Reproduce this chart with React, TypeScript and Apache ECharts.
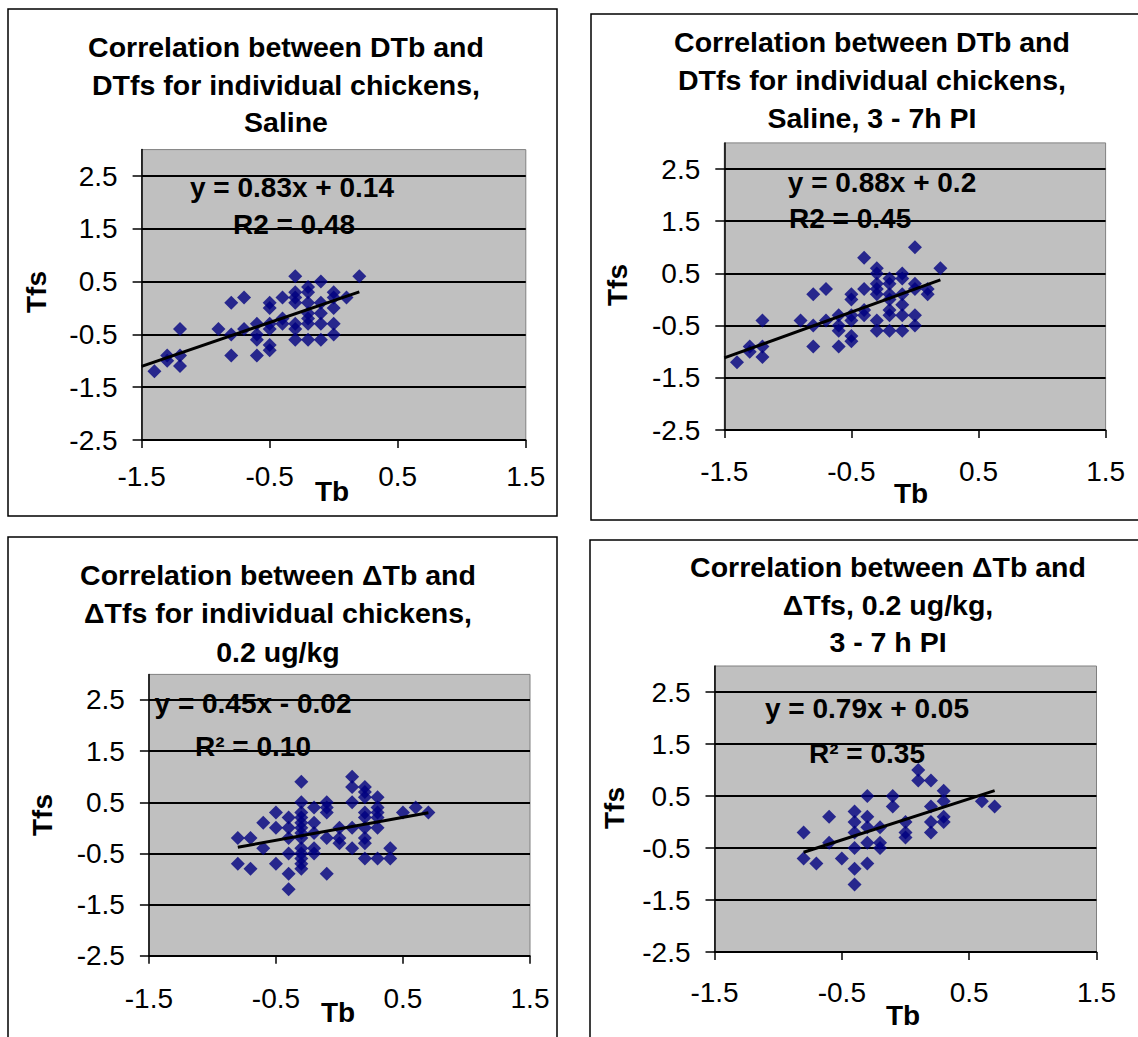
import { useEffect, useRef } from 'react';
import * as echarts from 'echarts';

const FONT = '"Liberation Sans", Arial, Helvetica, sans-serif';

// ---- axis settings ----
const xMin = -1.5;
const xMax = 1.5;
const yMin = -2.5;
const yMax = 3;
const yTickValues = [-2.5, -1.5, -0.5, 0.5, 1.5, 2.5];

// ---- panel texts ----
const titleSaline = ['Correlation between DTb and', 'DTfs for individual chickens,', 'Saline'];
const titleSaline37 = ['Correlation between DTb and', 'DTfs for individual chickens,', 'Saline, 3 - 7h PI'];
const titleDose = ['Correlation between \u0394Tb and', '\u0394Tfs for individual chickens,', '0.2 ug/kg'];
const titleDose37 = ['Correlation between \u0394Tb and', '\u0394Tfs, 0.2 ug/kg,', '3 - 7 h PI'];

const eqSaline = ['y = 0.83x + 0.14', 'R2 = 0.48'];
const eqSaline37 = ['y = 0.88x + 0.2', 'R2 = 0.45'];
const eqDose = ['y = 0.45x - 0.02', 'R\u00b2 = 0.10'];
const eqDose37 = ['y = 0.79x + 0.05', 'R\u00b2 = 0.35'];

// ---- data: Saline ----
const salineTb = [-1.4, -1.3, -1.3, -1.2, -1.2, -1.2, -0.9, -0.8, -0.8, -0.8, -0.7, -0.7, -0.6, -0.6, -0.6, -0.6,
  -0.5, -0.5, -0.5, -0.5, -0.5, -0.5, -0.4, -0.4, -0.4, -0.3, -0.3, -0.3, -0.3, -0.3, -0.3, -0.3,
  -0.2, -0.2, -0.2, -0.2, -0.2, -0.2, -0.2, -0.1, -0.1, -0.1, -0.1, -0.1, 0.0, 0.0, 0.0, 0.0, 0.0, 0.1, 0.2];
const salineTfs = [-1.2, -0.9, -1.0, -0.4, -0.9, -1.1, -0.4, 0.1, -0.5, -0.9, 0.2, -0.4, -0.3, -0.5, -0.6, -0.9,
  0.1, 0.0, -0.3, -0.4, -0.7, -0.8, 0.2, -0.2, -0.3, 0.6, 0.3, 0.2, 0.1, -0.3, -0.4, -0.6,
  0.4, 0.3, 0.1, -0.1, -0.2, -0.3, -0.6, 0.5, 0.1, -0.1, -0.3, -0.6, 0.3, 0.2, 0.0, -0.3, -0.5, 0.2, 0.6];

// ---- data: Saline, 3 - 7h PI ----
const saline37Tb = [-1.4, -1.3, -1.3, -1.2, -1.2, -1.2, -0.9, -0.8, -0.8, -0.8, -0.7, -0.7, -0.6, -0.6, -0.6, -0.6,
  -0.5, -0.5, -0.5, -0.5, -0.5, -0.5, -0.4, -0.4, -0.4, -0.4, -0.3, -0.3, -0.3, -0.3, -0.3, -0.3, -0.3,
  -0.2, -0.2, -0.2, -0.2, -0.2, -0.2, -0.2, -0.1, -0.1, -0.1, -0.1, -0.1, -0.1, 0.0, 0.0, 0.0, 0.0, 0.0, 0.1, 0.1, 0.2];
const saline37Tfs = [-1.2, -0.9, -1.0, -0.4, -0.9, -1.1, -0.4, 0.1, -0.5, -0.9, 0.2, -0.4, -0.3, -0.5, -0.6, -0.9,
  0.1, 0.0, -0.3, -0.4, -0.7, -0.8, 0.8, 0.2, -0.2, -0.3, 0.6, 0.5, 0.3, 0.2, 0.1, -0.4, -0.6,
  0.4, 0.3, 0.1, 0.0, -0.2, -0.3, -0.6, 0.5, 0.4, 0.1, -0.1, -0.3, -0.6, 1.0, 0.3, 0.2, -0.3, -0.5, 0.2, 0.1, 0.6];

// ---- data: 0.2 ug/kg ----
const doseTb = [-0.8, -0.8, -0.7, -0.7, -0.6, -0.6, -0.5, -0.5, -0.5, -0.4, -0.4, -0.4, -0.4, -0.4, -0.4,
  -0.3, -0.3, -0.3, -0.3, -0.3, -0.3, -0.3, -0.3, -0.3, -0.3, -0.3, -0.3, -0.3,
  -0.2, -0.2, -0.2, -0.2, -0.2, -0.1, -0.1, -0.1, -0.1, -0.1, 0.0, 0.0, 0.0,
  0.1, 0.1, 0.1, 0.1, 0.1, 0.2, 0.2, 0.2, 0.2, 0.2, 0.2, 0.2, 0.2, 0.2,
  0.3, 0.3, 0.3, 0.3, 0.3, 0.3, 0.4, 0.4, 0.5, 0.6, 0.7];
const doseTfs = [-0.2, -0.7, -0.2, -0.8, 0.1, -0.4, 0.3, 0.0, -0.7, 0.2, 0.0, -0.2, -0.5, -0.9, -1.2,
  0.9, 0.5, 0.3, 0.2, 0.1, 0.0, -0.1, -0.2, -0.4, -0.5, -0.6, -0.7, -0.8,
  0.4, 0.1, -0.1, -0.4, -0.5, 0.5, 0.4, 0.3, -0.2, -0.9, 0.0, -0.2, -0.3,
  1.0, 0.8, 0.5, 0.0, -0.4, 0.8, 0.7, 0.6, 0.3, 0.2, 0.0, -0.2, -0.3, -0.6,
  0.6, 0.4, 0.3, 0.2, 0.0, -0.6, -0.4, -0.6, 0.3, 0.4, 0.3];

// ---- data: 0.2 ug/kg, 3 - 7 h PI ----
const dose37Tb = [-0.8, -0.8, -0.7, -0.6, -0.6, -0.5, -0.4, -0.4, -0.4, -0.4, -0.4, -0.4,
  -0.3, -0.3, -0.3, -0.3, -0.3, -0.2, -0.2, -0.2, -0.1, -0.1, 0.0, 0.0, 0.0,
  0.1, 0.1, 0.2, 0.2, 0.2, 0.2, 0.3, 0.3, 0.3, 0.3, 0.6, 0.7];
const dose37Tfs = [-0.2, -0.7, -0.8, 0.1, -0.4, -0.7, 0.2, 0.0, -0.2, -0.5, -0.9, -1.2,
  0.5, 0.1, -0.1, -0.4, -0.8, -0.1, -0.4, -0.5, 0.5, 0.3, 0.0, -0.2, -0.3,
  1.0, 0.8, 0.8, 0.3, 0.0, -0.2, 0.6, 0.4, 0.1, 0.0, 0.4, 0.3];

// ---- linear trend lines (slope, intercept, x-extent) ----
const trendSaline = { slope: 0.83, intercept: 0.14, xs: [-1.5, 0.2] };
const trendSaline37 = { slope: 0.88, intercept: 0.2, xs: [-1.5, 0.2] };
const trendDose = { slope: 0.45, intercept: -0.02, xs: [-0.8, 0.7] };
const trendDose37 = { slope: 0.79, intercept: 0.05, xs: [-0.8, 0.7] };

// ---- layout per panel ----
const PANELS = [
  {
    tb: salineTb, tfs: salineTfs, trend: trendSaline, title: titleSaline, eq: eqSaline,
    grid: { left: 141.6, top: 149.6, width: 384.2, height: 290.4 },
    box: [8, 9, 549, 507],
    titleX: 286, titleYs: [47, 85, 122],
    eqPos: [[292, 187, 'center'], [294, 224, 'center']],
    tfsPos: [36, 292], tbPos: [332, 491], xLabelMargin: 22,
  },
  {
    tb: saline37Tb, tfs: saline37Tfs, trend: trendSaline37, title: titleSaline37, eq: eqSaline37,
    grid: { left: 724.3, top: 142.9, width: 381.3, height: 287.1 },
    box: [591, 14, 600, 506],
    titleX: 872, titleYs: [42, 80, 118],
    eqPos: [[882, 182, 'center'], [789, 218, 'left']],
    tfsPos: [617, 285], tbPos: [911, 493], xLabelMargin: 27,
  },
  {
    tb: doseTb, tfs: doseTfs, trend: trendDose, title: titleDose, eq: eqDose,
    grid: { left: 148.9, top: 674.4, width: 381.1, height: 281.3 },
    box: [8, 537, 549, 560],
    titleX: 278, titleYs: [575, 613, 652],
    eqPos: [[253, 703, 'center'], [253, 746, 'center']],
    tfsPos: [42, 815], tbPos: [338, 1012], xLabelMargin: 29,
  },
  {
    tb: dose37Tb, tfs: dose37Tfs, trend: trendDose37, title: titleDose37, eq: eqDose37,
    grid: { left: 714.5, top: 666, width: 382, height: 286 },
    box: [590, 540, 600, 560],
    titleX: 888, titleYs: [567, 605, 642],
    eqPos: [[867, 708, 'center'], [867, 753, 'center']],
    tfsPos: [614, 808], tbPos: [903, 1015], xLabelMargin: 26,
  },
];

function textEl(x: number, y: number, text: string, opts: any = {}) {
  const align = opts.align || 'center';
  return {
    type: 'text',
    x,
    y,
    rotation: opts.rotation || 0,
    z: 20,
    style: {
      text,
      fill: '#000',
      font: `${opts.weight || 'bold'} ${opts.size || 28}px ${FONT}`,
      align,
      verticalAlign: 'middle',
      textAlign: align,
      textVerticalAlign: 'middle',
    },
  };
}

export default function App() {
  const ref = useRef<HTMLDivElement>(null);

  useEffect(() => {
    if (!ref.current) return;
    const chart = echarts.init(ref.current, undefined, { renderer: 'svg' });

    const grids: any[] = [];
    const xAxes: any[] = [];
    const yAxes: any[] = [];
    const series: any[] = [];
    const graphics: any[] = [];

    PANELS.forEach((p, i) => {
      grids.push({
        ...p.grid,
        show: true,
        backgroundColor: '#C0C0C0',
        borderColor: '#808080',
        borderWidth: 1,
        containLabel: false,
      });
      xAxes.push({
        gridIndex: i,
        type: 'value',
        min: xMin,
        max: xMax,
        interval: 1,
        axisLine: { show: true, onZero: false, lineStyle: { color: '#000', width: 1.5 } },
        axisTick: { show: true, inside: false, length: 8, lineStyle: { color: '#000', width: 1.5 } },
        axisLabel: {
          color: '#000',
          fontSize: 28,
          fontFamily: FONT,
          margin: p.xLabelMargin,
          formatter: (v: number) => v.toFixed(1),
        },
        splitLine: { show: false },
      });
      yAxes.push({
        gridIndex: i,
        type: 'value',
        min: yMin,
        max: yMax,
        interval: 1,
        axisLine: { show: true, onZero: false, lineStyle: { color: '#000', width: 1.5 } },
        axisTick: {
          show: true,
          inside: false,
          length: 9,
          customValues: yTickValues,
          lineStyle: { color: '#000', width: 1.5 },
        },
        axisLabel: {
          color: '#000',
          fontSize: 28,
          fontFamily: FONT,
          margin: 24,
          customValues: yTickValues,
          formatter: (v: number) => v.toFixed(1),
        },
        splitLine: { show: true, lineStyle: { color: '#000', width: 1.8 } },
      });
      series.push({
        type: 'scatter',
        xAxisIndex: i,
        yAxisIndex: i,
        symbol: 'diamond',
        symbolSize: 14,
        itemStyle: { color: '#000080' },
        z: 3,
        data: p.tb.map((x, k) => [x, p.tfs[k]]),
      });
      series.push({
        type: 'line',
        xAxisIndex: i,
        yAxisIndex: i,
        symbol: 'none',
        lineStyle: { color: '#000', width: 3 },
        z: 4,
        data: p.trend.xs.map((x) => [x, p.trend.slope * x + p.trend.intercept]),
      });

      const [bx, by, bw, bh] = p.box;
      graphics.push({
        type: 'rect',
        z: 1,
        shape: { x: bx, y: by, width: bw, height: bh },
        style: { fill: 'none', stroke: '#000', lineWidth: 1.5 },
      });
      p.title.forEach((line, k) => {
        graphics.push(textEl(p.titleX, p.titleYs[k], line, { size: 28.5 }));
      });
      p.eq.forEach((line, k) => {
        const [ex, ey, al] = p.eqPos[k] as any;
        graphics.push(textEl(ex, ey, line, { align: al }));
      });
      graphics.push(textEl(p.tfsPos[0], p.tfsPos[1], 'Tfs', { rotation: Math.PI / 2 }));
      graphics.push(textEl(p.tbPos[0], p.tbPos[1], 'Tb'));
    });

    chart.setOption({
      animation: false,
      backgroundColor: '#fff',
      grid: grids,
      xAxis: xAxes,
      yAxis: yAxes,
      series,
      graphic: graphics,
    });

    return () => chart.dispose();
  }, []);

  return (
    <div
      ref={ref}
      style={{ position: 'absolute', left: 0, top: 0, width: 1138, height: 1037, background: '#fff' }}
    />
  );
}
